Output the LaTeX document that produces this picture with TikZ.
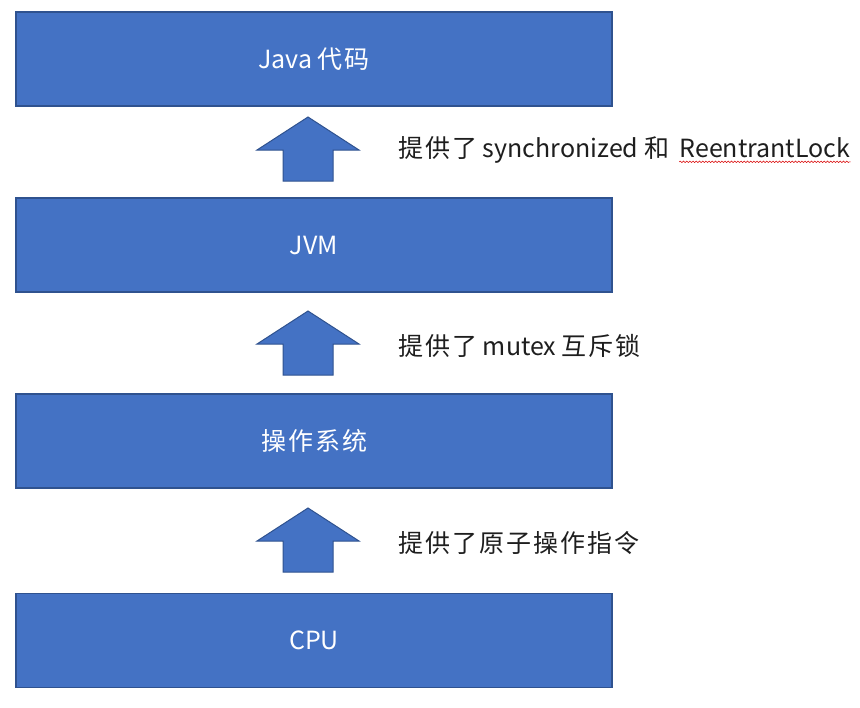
\documentclass[tikz,border=0pt]{standalone}
\usepackage{fontspec}
\setmainfont{Noto Sans CJK SC}
\newfontfamily\hanzi[LetterSpace=8]{Noto Sans CJK SC}
\newcommand\hz[1]{{\hanzi #1}}
\usetikzlibrary{positioning,decorations.pathmorphing}
\definecolor{layerfill}{RGB}{68,114,196}
\definecolor{layerdraw}{RGB}{47,82,143}
\definecolor{notecolor}{RGB}{30,30,30}

\begin{document}
\begin{tikzpicture}[
    x=0.75pt, y=-0.75pt,
    layer/.style={draw=layerdraw, line width=1pt, fill=layerfill, text=white,
       minimum width=447pt, minimum height=70.5pt, inner sep=0pt,
       font=\fontsize{18.75pt}{22pt}\selectfont},
    note/.style={text=notecolor, anchor=west, inner sep=0pt,
       font=\fontsize{18.75pt}{22pt}\selectfont},
    blockarrow/.style={draw=layerdraw, line width=0.75pt, fill=layerfill, line join=miter},
    squiggle/.style={red!85!black, line width=0.4pt, decorate,
       decoration={snake, amplitude=0.55pt, segment length=2.4pt}}
  ]
    \useasboundingbox (0,0) rectangle (860,707);

    % Layers, top to bottom
    \node[layer] (java) at (314,59)    {Java \hz{代码}};
    \node[layer] (jvm)  at (314,245)   {JVM};
    \node[layer] (os)   at (314,441)   {\hz{操作系统}};
    \node[layer] (cpu)  at (314,640.5) {CPU};

    % Block arrows between the layers
    \foreach \tip in {117,311,508} {
      \draw[blockarrow] (308,\tip) -- ++(51,33) -- ++(-26,0) -- ++(0,31)
        -- ++(-50,0) -- ++(0,-31) -- ++(-26,0) -- cycle;
    }

    % What each layer offers
    \node[note] (lbl1) at (398,150) {\hz{提供了} synchronized \hz{和}};
    \node[note, anchor=base west] (lock) at ([xshift=7.5pt]lbl1.base east) {ReentrantLock};
    \draw[squiggle] ([yshift=-3.2pt]lock.base west) -- ([yshift=-3.2pt]lock.base east);
    \node[note] (lbl2) at (398,346) {\hz{提供了} mutex \hz{互斥锁}};
    \node[note] (lbl3) at (398,543) {\hz{提供了原子操作指令}};
  \end{tikzpicture}
\end{document}
